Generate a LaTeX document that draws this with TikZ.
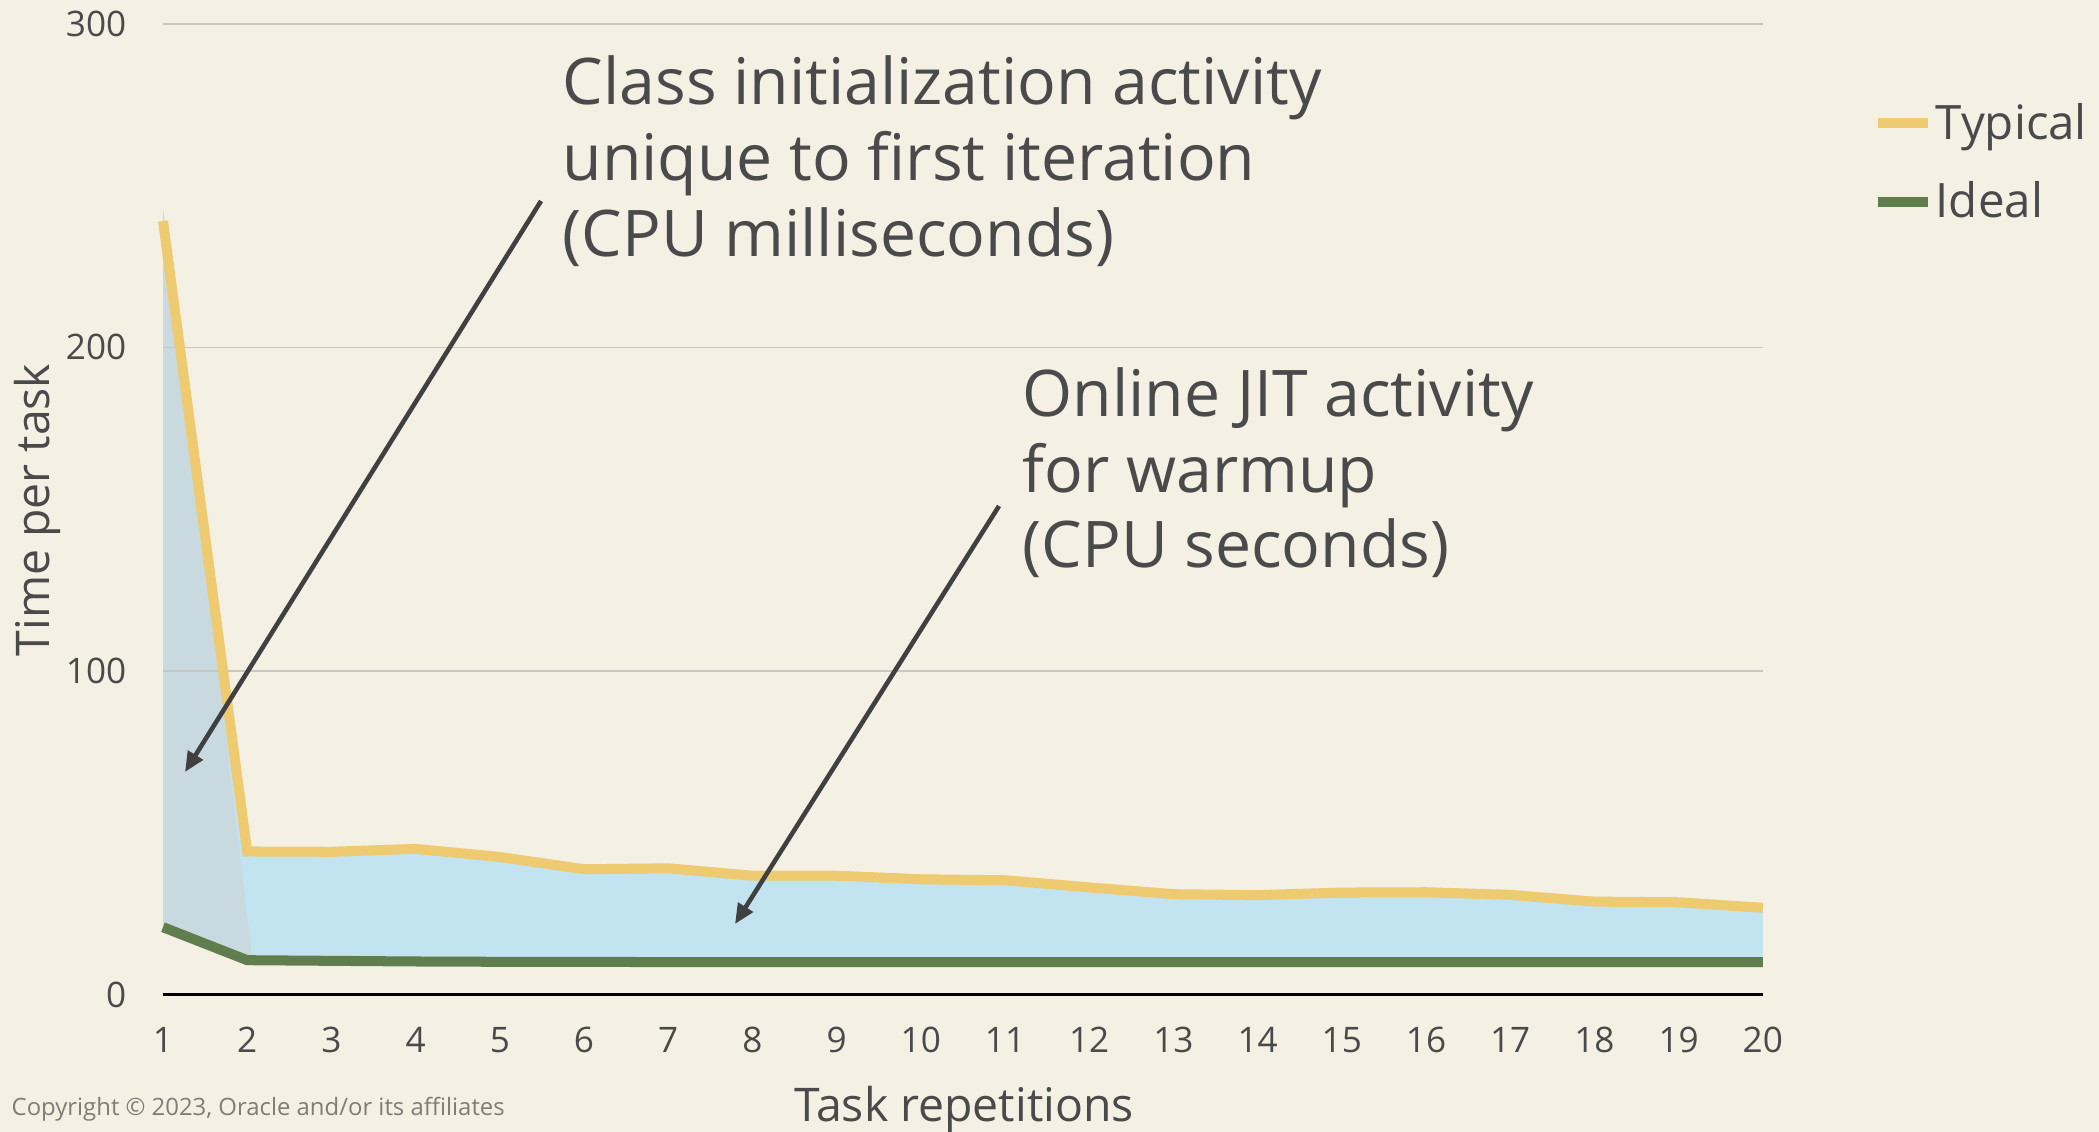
\documentclass[tikz,border=0pt]{standalone}
\usepackage{fontspec}
\setmainfont{Open Sans}
\usepackage{tikz}
\usetikzlibrary{positioning,arrows.meta,calc}
\definecolor{paper}{RGB}{245,240,228}
\definecolor{ink}{RGB}{74,74,74}
\definecolor{gridgray}{RGB}{200,200,194}
\definecolor{typical}{RGB}{238,203,112}
\definecolor{ideal}{RGB}{96,125,78}
\definecolor{jitblue}{RGB}{194,227,240}
\definecolor{initgray}{RGB}{200,218,223}
\definecolor{arrowgray}{RGB}{64,64,64}
\definecolor{fineprint}{RGB}{128,124,118}
\tikzset{
    note/.style={anchor=base west, align=left, inner sep=0pt, text=ink, font=\fontsize{18.3}{21.6}\selectfont},
    ticklabel/.style={inner sep=0pt, text=ink, font=\fontsize{10}{12}\selectfont},
    axislabel/.style={inner sep=0pt, text=ink, font=\fontsize{13.2}{15}\selectfont},
    legend/.style={anchor=base west, inner sep=0pt, text=ink, font=\fontsize{13.5}{16}\selectfont},
    gridline/.style={draw=gridgray, line width=0.45pt},
    zeroline/.style={draw=black, line width=0.9pt},
    series/.style={line width=2.85pt, line join=miter},
    pointer/.style={-{Triangle[length=2mm, width=1.7mm]}, line width=1.3pt, draw=arrowgray}
}

\begin{document}
\begin{tikzpicture}
\fill[paper] (0,0) rectangle (20.99,11.32);
\useasboundingbox (0,0) rectangle (20.99,11.32);
\begin{scope}[shift={(0.788cm,1.375cm)}, x=0.842cm, y=0.3236mm]
\fill[jitblue] plot coordinates {(1,239) (2,44.2) (3,44.1) (4,45.0) (5,42.5) (6,38.7) (7,39.0) (8,36.7) (9,36.7) (10,35.6) (11,35.3) (12,33.1) (13,31.0) (14,30.7) (15,31.5) (16,31.6) (17,30.8) (18,28.7) (19,28.5) (20,26.8)}
    -- plot coordinates {(20,10) (7,10) (6,10.1) (5,10.1) (4,10.2) (3,10.4) (2,10.6) (1,20.8)} -- cycle;
\fill[initgray] (1,243) -- (2.06,11) -- (1,21.5) -- cycle;
\foreach \v in {100,200,300} \draw[gridline] (1,\v) -- (20,\v);
\draw[zeroline] (1,0) -- (20,0);
\draw[series, draw=ideal] plot coordinates {(1,20.8) (2,10.6) (3,10.4) (4,10.2) (5,10.1) (6,10.1) (7,10) (20,10)};
\draw[series, draw=typical] plot coordinates {(1,239) (2,44.2) (3,44.1) (4,45.0) (5,42.5) (6,38.7) (7,39.0) (8,36.7) (9,36.7) (10,35.6) (11,35.3) (12,33.1) (13,31.0) (14,30.7) (15,31.5) (16,31.6) (17,30.8) (18,28.7) (19,28.5) (20,26.8)};
\foreach \k in {1,...,20} \node[ticklabel, anchor=base] (xt\k) at (\k,-18.08) {\k};
\foreach \v in {0,100,200,300} \node[ticklabel, anchor=east] (yt\v) at (0.572,\v) {\v};
\end{scope}

\node[axislabel, rotate=90, anchor=base] (ylabel) at (0.50,6.22) {Time per task};
\node[axislabel, anchor=base] (xlabel) at (9.64,0.10) {Task repetitions};
\node[inner sep=0pt, anchor=base west, text=fineprint, font=\fontsize{6.8}{8}\selectfont] (copyright) at (0.11,0.16) {Copyright © 2023, Oracle and/or its affiliates};

\draw[series, draw=typical] (18.78,10.09) -- (19.28,10.09);
\node[legend] (legTypical) at (19.35,9.92) {Typical};
\draw[series, draw=ideal] (18.78,9.30) -- (19.28,9.30);
\node[legend] (legIdeal) at (19.35,9.14) {Ideal};

\node[note] (initNote) at (5.62,8.753) {Class initialization activity\\unique to first iteration\\(CPU milliseconds)};
\node[note] (jitNote) at (10.22,5.64) {Online JIT activity\\for warmup\\(CPU seconds)};

\coordinate (initTail) at (5.41,9.31);
\coordinate (initTip) at (1.85,3.60);
\coordinate (jitTail) at (9.99,6.26);
\coordinate (jitTip) at (7.35,2.08);
\draw[pointer] (initTail) -- (initTip);
\draw[pointer] (jitTail) -- (jitTip);
\end{tikzpicture}
\end{document}
